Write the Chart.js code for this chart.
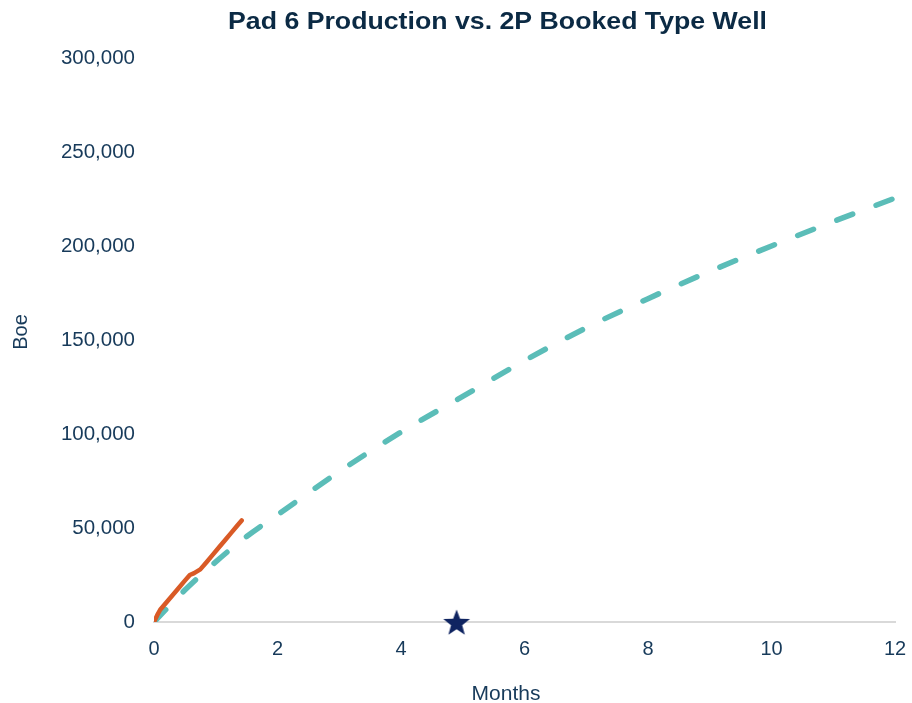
<!DOCTYPE html>
<html>
<head>
<meta charset="utf-8">
<script src="https://cdn.jsdelivr.net/npm/chart.js@4/dist/chart.umd.min.js"></script>
<style>
  html, body { margin: 0; padding: 0; background: #ffffff; }
  #wrap { width: 912px; height: 703px; }
</style>
</head>
<body>
<div id="wrap"><canvas id="c" width="912" height="703"></canvas></div>
<script>
// Booked 2P type well cumulative (Boe) by month
const typeWellMonths = [0, 0.5, 1, 1.5, 2, 3, 4, 5, 6, 7, 8, 9, 10, 11, 12];
const typeWellBoe = [0, 17000, 32000, 45500, 57000, 80000, 101000, 120000, 139000, 156500, 172000, 186500, 200000, 213000, 225500];

// Pad 6 actual cumulative production (Boe)
const padMonths = [0, 0.05, 0.1, 0.2, 0.3, 0.4, 0.5, 0.58, 0.65, 0.75, 0.85, 0.95, 1.05, 1.15, 1.25, 1.35, 1.42];
const padBoe = [0, 3500, 6500, 10400, 14200, 18100, 22000, 25000, 26000, 28000, 31800, 35700, 39600, 43500, 47400, 51300, 54000];

// Marker on the time axis
const markerMonth = [4.9];
const markerBoe = [0];

const xTicks = [0, 2, 4, 6, 8, 10, 12];
const yTicks = [0, 50000, 100000, 150000, 200000, 250000, 300000];

const chartTitle = 'Pad 6 Production vs. 2P Booked Type Well';
const xTitle = 'Months';
const yTitle = 'Boe';

const textColor = '#173a5a';
const titleColor = '#0b2a44';
const fontFamily = '"Liberation Sans", Arial, sans-serif';

// Five-pointed star image for the marker
function makeStar(r, color) {
  const cv = document.createElement('canvas');
  cv.width = r * 2 + 2; cv.height = r * 2 + 2;
  const g = cv.getContext('2d');
  const cx = cv.width / 2, cy = cv.height / 2 + r * 0.1;
  const inner = r * 0.42;
  g.beginPath();
  for (let i = 0; i < 10; i++) {
    const rad = i % 2 === 0 ? r : inner;
    const a = -Math.PI / 2 + i * Math.PI / 5;
    const px = cx + rad * Math.cos(a), py = cy + rad * Math.sin(a);
    if (i === 0) g.moveTo(px, py); else g.lineTo(px, py);
  }
  g.closePath();
  g.fillStyle = color;
  g.fill();
  return cv;
}
const starImg = makeStar(14, '#0f2461');

// Chart title and axis titles
const titlesPlugin = {
  id: 'titles',
  afterDraw(chart) {
    const ctx = chart.ctx;
    ctx.save();
    ctx.font = 'bold 24px ' + fontFamily;
    ctx.fillStyle = titleColor;
    ctx.textAlign = 'center';
    ctx.textBaseline = 'alphabetic';
    const w = ctx.measureText(chartTitle).width;
    const sx = 539 / w;
    ctx.translate(497.5, 29);
    ctx.scale(sx, 1);
    ctx.fillText(chartTitle, 0, 0);
    ctx.restore();

    ctx.save();
    ctx.font = '21px ' + fontFamily;
    ctx.fillStyle = textColor;
    ctx.textAlign = 'center';
    ctx.textBaseline = 'alphabetic';
    ctx.fillText(xTitle, 506, 700);
    ctx.translate(27, 332);
    ctx.rotate(-Math.PI / 2);
    ctx.font = '20px ' + fontFamily;
    ctx.fillText(yTitle, 0, 0);
    ctx.restore();
  }
};

const toXY = (xs, ys) => xs.map((x, i) => ({ x: x, y: ys[i] }));

new Chart(document.getElementById('c'), {
  type: 'scatter',
  data: {
    datasets: [
      {
        label: '2P Booked Type Well',
        data: toXY(typeWellMonths, typeWellBoe),
        showLine: true,
        borderColor: '#5bbdb8',
        borderWidth: 5.5,
        borderDash: [17, 25],
        borderCapStyle: 'round',
        cubicInterpolationMode: 'monotone',
        pointRadius: 0,
        order: 3
      },
      {
        label: 'Pad 6 Production',
        data: toXY(padMonths, padBoe),
        showLine: true,
        borderColor: '#d95a26',
        borderWidth: 4.5,
        borderCapStyle: 'round',
        borderJoinStyle: 'round',
        pointRadius: 0,
        order: 2
      },
      {
        label: 'Marker',
        data: toXY(markerMonth, markerBoe),
        showLine: false,
        pointStyle: starImg,
        pointRadius: 14,
        clip: false,
        order: 1
      }
    ]
  },
  plugins: [titlesPlugin],
  options: {
    responsive: false,
    animation: false,
    devicePixelRatio: 1,
    layout: { padding: { left: 0, right: 17, top: 58, bottom: 0 } },
    plugins: {
      legend: { display: false },
      tooltip: { enabled: false },
      title: { display: false }
    },
    scales: {
      x: {
        type: 'linear',
        min: 0,
        max: 12,
        afterBuildTicks: (s) => { s.ticks = xTicks.map(v => ({ value: v })); },
        afterFit: (s) => { s.height = 81; s.paddingLeft = 0; s.paddingRight = 0; },
        grid: { display: false, drawTicks: false },
        border: { display: true, color: '#d9d9d9', width: 2 },
        ticks: {
          color: textColor,
          font: { family: fontFamily, size: 20 },
          padding: 15,
          maxRotation: 0
        }
      },
      y: {
        type: 'linear',
        min: 0,
        max: 300000,
        afterBuildTicks: (s) => { s.ticks = yTicks.map(v => ({ value: v })); },
        afterFit: (s) => { s.width = 154; s.paddingTop = 0; s.paddingBottom = 0; },
        grid: { display: false, drawTicks: false },
        border: { display: false },
        ticks: {
          color: textColor,
          font: { family: fontFamily, size: 20.5 },
          padding: 19,
          callback: (v) => v.toLocaleString('en-US')
        }
      }
    }
  }
});
</script>
</body>
</html>
